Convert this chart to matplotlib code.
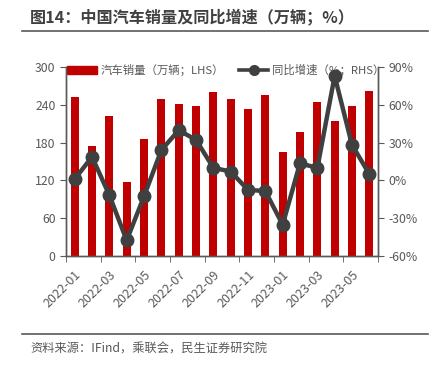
import matplotlib.pyplot as plt
import numpy as np
from matplotlib.lines import Line2D
from matplotlib.patches import Patch

plt.rcParams['font.family'] = ['Noto Sans CJK SC', 'DejaVu Sans']

MONTHS = ["2022-01", "2022-02", "2022-03", "2022-04", "2022-05", "2022-06",
          "2022-07", "2022-08", "2022-09", "2022-10", "2022-11", "2022-12",
          "2023-01", "2023-02", "2023-03", "2023-04", "2023-05", "2023-06"]
SALES = [253, 174, 223, 118, 186, 250, 242, 238, 261, 250, 233, 256,
         165, 197, 245, 215, 238, 262]
YOY = [1.0, 18.7, -11.7, -47.6, -12.7, 24.0, 39.8, 32.2, 10.0, 7.0, -7.5, -8.5,
       -35.2, 13.7, 9.8, 82.9, 28.2, 5.0]

RED = "#C00000"
DARK = "#404040"
GRAY = "#595959"

fig = plt.figure(figsize=(4.34, 3.68), dpi=100)
ax = fig.add_axes([66 / 434, 1 - 256 / 368, (378 - 66) / 434, (256 - 67) / 368])
ax2 = ax.twinx()

x = np.arange(len(MONTHS))
ax.bar(x, SALES, width=0.46, color=RED, zorder=2)
ax2.plot(x, YOY, color=DARK, linewidth=3.2, marker="o", markersize=9, zorder=3)

ax.set_xlim(-0.5, len(MONTHS) - 0.5)
ax.set_ylim(0, 300)
ax.set_yticks(range(0, 301, 60))
ax2.set_ylim(-60, 90)
ax2.set_yticks(range(-60, 91, 30))
ax2.set_yticklabels([f"{v}%" for v in range(-60, 91, 30)])

ax.set_xticks(x[::2])
ax.set_xticklabels(MONTHS[::2], rotation=45, ha="right", rotation_mode="anchor")
ax.set_xticks(np.arange(-0.5, len(MONTHS), 2), minor=True)
ax.tick_params(axis="x", which="major", length=0, pad=9)
ax.tick_params(axis="x", which="minor", length=4, color=GRAY)

for a in (ax, ax2):
    a.tick_params(axis="y", colors=GRAY, labelsize=8.8, length=4)
    a.tick_params(axis="x", colors=GRAY, labelsize=9)
    a.spines["top"].set_visible(False)
    for s in ("left", "right", "bottom"):
        a.spines[s].set_color(GRAY)
        a.spines[s].set_linewidth(1)

ax.set_zorder(ax2.get_zorder() - 1)
ax.patch.set_visible(False)
ax2.patch.set_visible(False)

handles = [Patch(color=RED, label="汽车销量（万辆；LHS）"),
           Line2D([], [], color=DARK, linewidth=2.6, marker="o", markersize=7,
                  label="同比增速（%；RHS）")]
leg = ax2.legend(handles=handles, ncol=2, loc="upper left", bbox_to_anchor=(-0.01, 1.04),
                 frameon=False, fontsize=8.2, labelcolor=GRAY, handlelength=2.6,
                 columnspacing=1.3, handletextpad=0.3, borderaxespad=0)
leg.set_zorder(1)

fig.text(30 / 434, 1 - 17 / 368, "图14：中国汽车销量及同比增速（万辆；%）", fontsize=11.6,
         fontweight="bold", color=DARK, va="center")
fig.add_artist(Line2D([22 / 434, 428 / 434], [1 - 31 / 368] * 2, color="#595959", linewidth=1.2))
fig.add_artist(Line2D([22 / 434, 428 / 434], [1 - 334 / 368] * 2, color="#595959", linewidth=1.2))
fig.text(30 / 434, 1 - 349 / 368, "资料来源：IFind，乘联会，民生证券研究院", fontsize=8.8,
         color=GRAY, va="center")

fig.savefig("out.png", dpi=100)
